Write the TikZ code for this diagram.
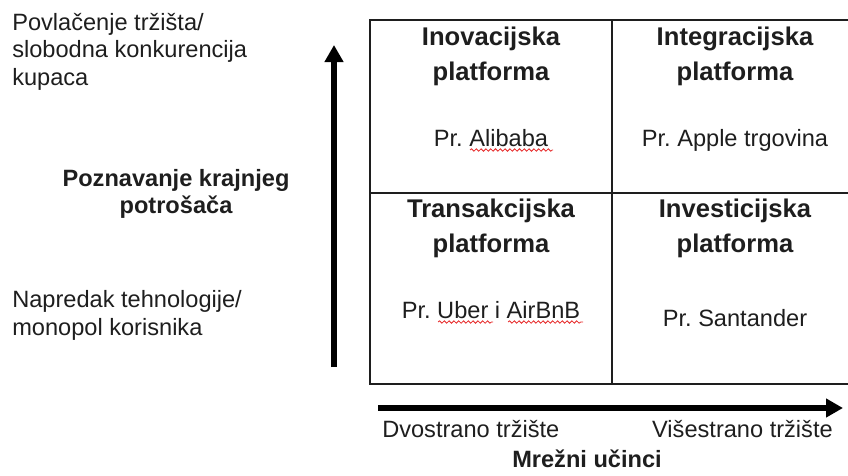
\documentclass[tikz,border=0pt]{standalone}
\usepackage{fontspec}
\setmainfont{Liberation Sans}
\usetikzlibrary{arrows.meta, positioning, decorations.pathmorphing}
\definecolor{inkgray}{RGB}{30, 30, 30}
\definecolor{spellred}{RGB}{230, 40, 40}
\frenchspacing

\begin{document}
\begin{tikzpicture}[x=0.75pt, y=-0.75pt,
  cell/.style={rectangle, draw=inkgray, line width=0.9pt, minimum width=181.5pt, inner sep=0pt},
  title/.style={font=\fontsize{19.2}{26.2}\selectfont\bfseries, align=center, inner sep=0pt, anchor=base, text=inkgray},
  txt/.style={font=\fontsize{17.7}{20.6}\selectfont, inner sep=0pt, anchor=base, text=inkgray},
  lbl/.style={font=\fontsize{17.7}{19.6}\selectfont\bfseries, align=center, inner sep=0pt, anchor=base, text=inkgray},
  axis/.style={line width=4.5pt, -{Triangle[length=12.75pt, width=13.5pt]}},
  squig/.style={spellred, line width=0.6pt, decorate, decoration={snake, amplitude=0.9pt, segment length=3.6pt}}]
\useasboundingbox (0,0) rectangle (848,475);
\clip (0,0) rectangle (848,475);

% Matrix cells
\node[cell, minimum height=129.75pt] (inov) at (491,106.5) {};
\node[cell, minimum height=129.75pt] (integ) at (733,106.5) {};
\node[cell, minimum height=143.25pt] (trans) at (491,288.5) {};
\node[cell, minimum height=143.25pt] (invest) at (733,288.5) {};

% Cell texts
\node[title] (inovT) at (491,80) {Inovacijska\\platforma};
\node[txt] (inovP) at (491,146) {Pr. Alibaba};
\node[title] (integT) at (735,80) {Integracijska\\platforma};
\node[txt] (integP) at (735,146) {Pr. Apple trgovina};
\node[title] (transT) at (491,252) {Transakcijska\\platforma};
\node[txt] (transP) at (491,318) {Pr. Uber i AirBnB};
\node[title] (investT) at (735,252) {Investicijska\\platforma};
\node[txt] (investP) at (735,326) {Pr. Santander};

% Spelling marks
\draw[squig] (470,150) -- (553,150);
\draw[squig] (438,322) -- (493,322);
\draw[squig] (508,322) -- (583,322);

% Vertical axis
\coordinate (vlow) at (334,367);
\coordinate (vhigh) at (334,45);
\draw[axis] (vlow) -- (vhigh);
\node[txt, anchor=base west, align=left] (high) at (12,85) {Povlačenje tržišta/\\slobodna konkurencija\\kupaca};
\node[lbl] (yname) at (176,213) {Poznavanje krajnjeg\\potrošača};
\node[txt, anchor=base west, align=left] (low) at (12,335) {Napredak tehnologije/\\monopol korisnika};

% Horizontal axis
\coordinate (hleft) at (378,408);
\coordinate (hright) at (843,408);
\draw[axis] (hleft) -- (hright);
\node[txt, anchor=base west] (two) at (382,437) {Dvostrano tržište};
\node[txt, anchor=base east] (multi) at (833,437) {Višestrano tržište};
\node[lbl] (xname) at (587,467) {Mrežni učinci};
\end{tikzpicture}
\end{document}
